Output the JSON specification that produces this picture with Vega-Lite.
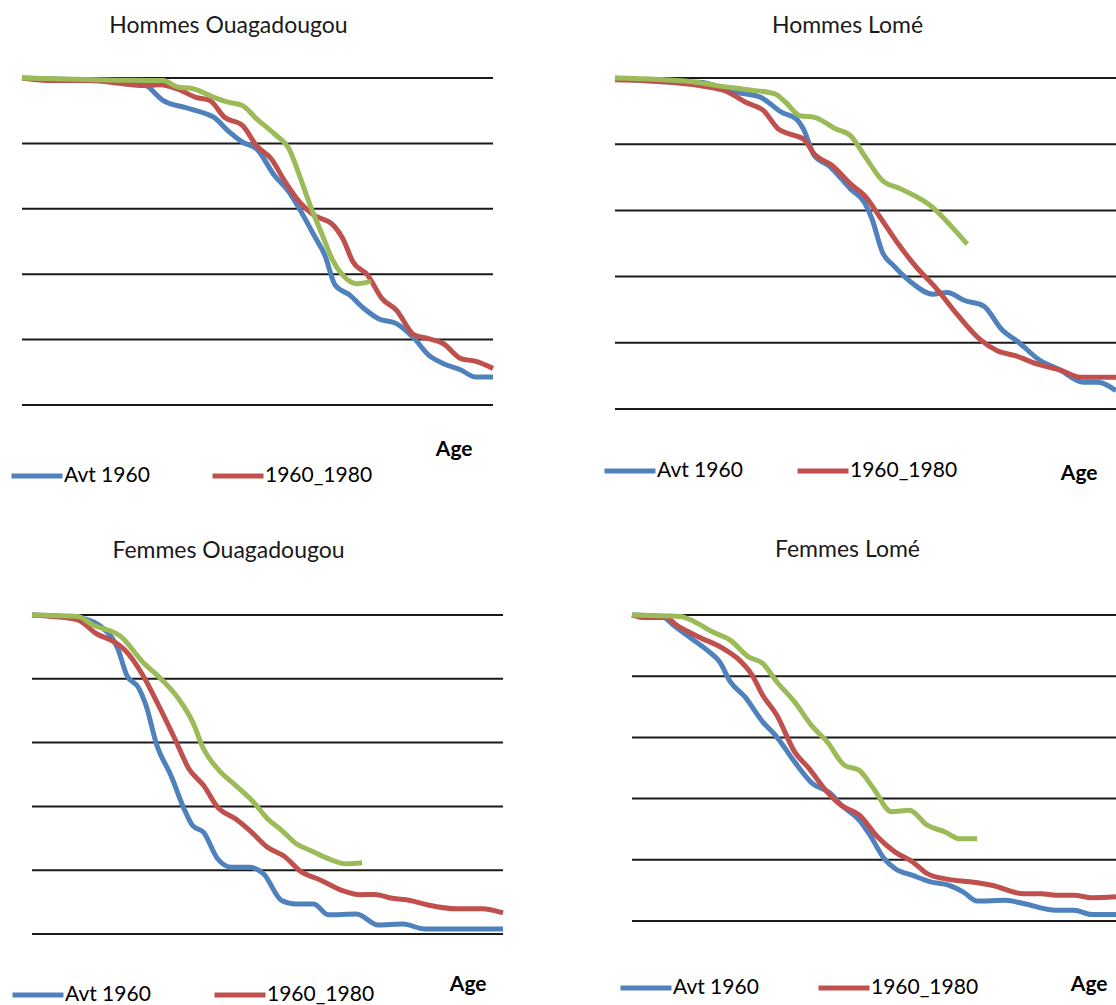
{
"$schema": "https://vega.github.io/schema/vega-lite/v6.json",
"padding": {"left": 9, "top": 15, "right": 0, "bottom": 0},
"background": "white",
"config": {"view": {"stroke": null}, "font": "Lato"},
"datasets": {
"grid": [{"g": 0}, {"g": 20}, {"g": 40}, {"g": 60}, {"g": 80}, {"g": 100}],
"HO": [
{"s": "Avt 1960", "age": 0, "v": 100}, {"s": "Avt 1960", "age": 12, "v": 99.5}, {"s": "Avt 1960", "age": 25.5, "v": 98.7}, {"s": "Avt 1960", "age": 26.9, "v": 97.2}, {"s": "Avt 1960", "age": 30, "v": 93.1}, {"s": "Avt 1960", "age": 34.6, "v": 91}, {"s": "Avt 1960", "age": 39.2, "v": 89}, {"s": "Avt 1960", "age": 40.7, "v": 88}, {"s": "Avt 1960", "age": 43.7, "v": 83.9}, {"s": "Avt 1960", "age": 46.8, "v": 80.4}, {"s": "Avt 1960", "age": 49.8, "v": 78.3}, {"s": "Avt 1960", "age": 53.6, "v": 70.2}, {"s": "Avt 1960", "age": 56.7, "v": 65.1}, {"s": "Avt 1960", "age": 58.9, "v": 60}, {"s": "Avt 1960", "age": 62, "v": 51.9}, {"s": "Avt 1960", "age": 64.3, "v": 45.8}, {"s": "Avt 1960", "age": 66.5, "v": 36.6}, {"s": "Avt 1960", "age": 69.6, "v": 33.6}, {"s": "Avt 1960", "age": 72.6, "v": 29.5}, {"s": "Avt 1960", "age": 75.7, "v": 26.4}, {"s": "Avt 1960", "age": 79.5, "v": 24.9}, {"s": "Avt 1960", "age": 83.3, "v": 20.3}, {"s": "Avt 1960", "age": 86.3, "v": 15.3}, {"s": "Avt 1960", "age": 89.4, "v": 12.7}, {"s": "Avt 1960", "age": 93.2, "v": 10.7}, {"s": "Avt 1960", "age": 96.2, "v": 8.6}, {"s": "Avt 1960", "age": 100, "v": 8.6},
{"s": "1960_1980", "age": 0, "v": 100}, {"s": "1960_1980", "age": 6.5, "v": 99.2}, {"s": "1960_1980", "age": 14.1, "v": 99.2}, {"s": "1960_1980", "age": 21.7, "v": 98.2}, {"s": "1960_1980", "age": 25.5, "v": 97.7}, {"s": "1960_1980", "age": 29.3, "v": 97.9}, {"s": "1960_1980", "age": 33.1, "v": 96.6}, {"s": "1960_1980", "age": 36.9, "v": 94.1}, {"s": "1960_1980", "age": 39.9, "v": 93.1}, {"s": "1960_1980", "age": 43, "v": 88}, {"s": "1960_1980", "age": 46.8, "v": 85.5}, {"s": "1960_1980", "age": 49.8, "v": 79.3}, {"s": "1960_1980", "age": 52.9, "v": 75.3}, {"s": "1960_1980", "age": 55.9, "v": 68.2}, {"s": "1960_1980", "age": 58.9, "v": 62.1}, {"s": "1960_1980", "age": 62, "v": 58}, {"s": "1960_1980", "age": 65.8, "v": 55.4}, {"s": "1960_1980", "age": 68.1, "v": 50.9}, {"s": "1960_1980", "age": 70.3, "v": 43.7}, {"s": "1960_1980", "age": 73.4, "v": 39.7}, {"s": "1960_1980", "age": 76.4, "v": 32.6}, {"s": "1960_1980", "age": 79.5, "v": 29}, {"s": "1960_1980", "age": 83.3, "v": 21.4}, {"s": "1960_1980", "age": 86.3, "v": 20.3}, {"s": "1960_1980", "age": 89.4, "v": 18.8}, {"s": "1960_1980", "age": 93.2, "v": 14.2}, {"s": "1960_1980", "age": 96.2, "v": 13.4}, {"s": "1960_1980", "age": 100, "v": 11.2},
{"s": "Après 1980", "age": 0, "v": 100}, {"s": "Après 1980", "age": 17.9, "v": 99.4}, {"s": "Après 1980", "age": 30, "v": 99.2}, {"s": "Après 1980", "age": 33.1, "v": 97.2}, {"s": "Après 1980", "age": 36.1, "v": 96.8}, {"s": "Après 1980", "age": 40.7, "v": 94.1}, {"s": "Après 1980", "age": 43.7, "v": 92.6}, {"s": "Après 1980", "age": 46.8, "v": 91.6}, {"s": "Après 1980", "age": 49.8, "v": 87.5}, {"s": "Après 1980", "age": 53.6, "v": 82.9}, {"s": "Après 1980", "age": 56.7, "v": 78.3}, {"s": "Après 1980", "age": 58.9, "v": 70.2}, {"s": "Après 1980", "age": 61.2, "v": 61}, {"s": "Après 1980", "age": 63.5, "v": 52.9}, {"s": "Après 1980", "age": 65.8, "v": 44.8}, {"s": "Après 1980", "age": 68.1, "v": 39.7}, {"s": "Après 1980", "age": 71.1, "v": 37.1}, {"s": "Après 1980", "age": 74.1, "v": 37.8}
],
"HL": [
{"s": "Avt 1960", "age": 0, "v": 100}, {"s": "Avt 1960", "age": 13.3, "v": 98.7}, {"s": "Avt 1960", "age": 16.8, "v": 98.7}, {"s": "Avt 1960", "age": 24, "v": 95.7}, {"s": "Avt 1960", "age": 29, "v": 94.2}, {"s": "Avt 1960", "age": 33.3, "v": 89.6}, {"s": "Avt 1960", "age": 36.2, "v": 87.6}, {"s": "Avt 1960", "age": 37.6, "v": 84.6}, {"s": "Avt 1960", "age": 39.8, "v": 76.5}, {"s": "Avt 1960", "age": 42.7, "v": 73.5}, {"s": "Avt 1960", "age": 47, "v": 66.5}, {"s": "Avt 1960", "age": 49.8, "v": 62.4}, {"s": "Avt 1960", "age": 51.3, "v": 57.4}, {"s": "Avt 1960", "age": 53.4, "v": 47.3}, {"s": "Avt 1960", "age": 55.6, "v": 43.3}, {"s": "Avt 1960", "age": 59.1, "v": 38.3}, {"s": "Avt 1960", "age": 63.4, "v": 34.7}, {"s": "Avt 1960", "age": 66.3, "v": 35.2}, {"s": "Avt 1960", "age": 69.9, "v": 32.7}, {"s": "Avt 1960", "age": 73.5, "v": 31.2}, {"s": "Avt 1960", "age": 77.1, "v": 24.2}, {"s": "Avt 1960", "age": 80.6, "v": 20.1}, {"s": "Avt 1960", "age": 84.9, "v": 14.6}, {"s": "Avt 1960", "age": 88.5, "v": 12.1}, {"s": "Avt 1960", "age": 93.5, "v": 8.1}, {"s": "Avt 1960", "age": 96.4, "v": 8.1}, {"s": "Avt 1960", "age": 100, "v": 5.5},
{"s": "1960_1980", "age": 0, "v": 99.5}, {"s": "1960_1980", "age": 9.7, "v": 98.9}, {"s": "1960_1980", "age": 16.8, "v": 97.7}, {"s": "1960_1980", "age": 22.6, "v": 95.7}, {"s": "1960_1980", "age": 26.2, "v": 92.6}, {"s": "1960_1980", "age": 29.7, "v": 90.1}, {"s": "1960_1980", "age": 32.6, "v": 84.6}, {"s": "1960_1980", "age": 34.8, "v": 83.1}, {"s": "1960_1980", "age": 37.6, "v": 81.6}, {"s": "1960_1980", "age": 39.8, "v": 77}, {"s": "1960_1980", "age": 43.4, "v": 73.5}, {"s": "1960_1980", "age": 47, "v": 68}, {"s": "1960_1980", "age": 49.8, "v": 64.5}, {"s": "1960_1980", "age": 52.7, "v": 58.4}, {"s": "1960_1980", "age": 56.3, "v": 50.4}, {"s": "1960_1980", "age": 59.9, "v": 43.3}, {"s": "1960_1980", "age": 64.2, "v": 36.3}, {"s": "1960_1980", "age": 68.5, "v": 28.2}, {"s": "1960_1980", "age": 72.8, "v": 21.1}, {"s": "1960_1980", "age": 76.3, "v": 17.6}, {"s": "1960_1980", "age": 79.9, "v": 16.1}, {"s": "1960_1980", "age": 84.2, "v": 13.6}, {"s": "1960_1980", "age": 89.2, "v": 11.6}, {"s": "1960_1980", "age": 92.8, "v": 9.6}, {"s": "1960_1980", "age": 100, "v": 9.6},
{"s": "Après 1980", "age": 0, "v": 100}, {"s": "Après 1980", "age": 15.4, "v": 98.9}, {"s": "Après 1980", "age": 20.4, "v": 97.7}, {"s": "Après 1980", "age": 26.2, "v": 96.5}, {"s": "Après 1980", "age": 31.9, "v": 95.2}, {"s": "Après 1980", "age": 34.1, "v": 92.6}, {"s": "Après 1980", "age": 36.9, "v": 88.6}, {"s": "Après 1980", "age": 39.8, "v": 88.1}, {"s": "Après 1980", "age": 44.1, "v": 84.6}, {"s": "Après 1980", "age": 47, "v": 82.6}, {"s": "Après 1980", "age": 49.8, "v": 76.5}, {"s": "Après 1980", "age": 53.4, "v": 69}, {"s": "Après 1980", "age": 57, "v": 66.5}, {"s": "Après 1980", "age": 63.4, "v": 60.9}, {"s": "Après 1980", "age": 67, "v": 55.4}, {"s": "Après 1980", "age": 70.3, "v": 49.8}
],
"FO": [
{"s": "Avt 1960", "age": 0, "v": 100}, {"s": "Avt 1960", "age": 9.8, "v": 99.2}, {"s": "Avt 1960", "age": 15.9, "v": 94.8}, {"s": "Avt 1960", "age": 18.2, "v": 89.5}, {"s": "Avt 1960", "age": 20.1, "v": 81.2}, {"s": "Avt 1960", "age": 22.7, "v": 77}, {"s": "Avt 1960", "age": 24.2, "v": 71.7}, {"s": "Avt 1960", "age": 26.5, "v": 59.2}, {"s": "Avt 1960", "age": 29.5, "v": 49.7}, {"s": "Avt 1960", "age": 32.6, "v": 38.2}, {"s": "Avt 1960", "age": 34.1, "v": 34}, {"s": "Avt 1960", "age": 36.4, "v": 31.9}, {"s": "Avt 1960", "age": 39.4, "v": 23.6}, {"s": "Avt 1960", "age": 42.4, "v": 20.9}, {"s": "Avt 1960", "age": 46.2, "v": 20.9}, {"s": "Avt 1960", "age": 49.2, "v": 18.8}, {"s": "Avt 1960", "age": 53, "v": 10.5}, {"s": "Avt 1960", "age": 56.1, "v": 9.4}, {"s": "Avt 1960", "age": 59.8, "v": 9.4}, {"s": "Avt 1960", "age": 62.9, "v": 6}, {"s": "Avt 1960", "age": 68.9, "v": 6.3}, {"s": "Avt 1960", "age": 73.5, "v": 2.8}, {"s": "Avt 1960", "age": 78.8, "v": 3.1}, {"s": "Avt 1960", "age": 83.3, "v": 1.6}, {"s": "Avt 1960", "age": 100, "v": 1.6},
{"s": "1960_1980", "age": 0, "v": 100}, {"s": "1960_1980", "age": 4.5, "v": 99.5}, {"s": "1960_1980", "age": 9.8, "v": 98.4}, {"s": "1960_1980", "age": 13.6, "v": 94.2}, {"s": "1960_1980", "age": 17.4, "v": 91.6}, {"s": "1960_1980", "age": 19.7, "v": 89}, {"s": "1960_1980", "age": 23.5, "v": 81.2}, {"s": "1960_1980", "age": 26.5, "v": 72.8}, {"s": "1960_1980", "age": 30.3, "v": 61.3}, {"s": "1960_1980", "age": 33.3, "v": 51.8}, {"s": "1960_1980", "age": 36.4, "v": 46.6}, {"s": "1960_1980", "age": 39.4, "v": 39.8}, {"s": "1960_1980", "age": 43.2, "v": 36.1}, {"s": "1960_1980", "age": 46.2, "v": 32.5}, {"s": "1960_1980", "age": 50, "v": 27.2}, {"s": "1960_1980", "age": 53.8, "v": 24.1}, {"s": "1960_1980", "age": 56.8, "v": 19.9}, {"s": "1960_1980", "age": 61.4, "v": 16.8}, {"s": "1960_1980", "age": 65.9, "v": 13.6}, {"s": "1960_1980", "age": 69.7, "v": 12.3}, {"s": "1960_1980", "age": 72.7, "v": 12.4}, {"s": "1960_1980", "age": 76.5, "v": 11.2}, {"s": "1960_1980", "age": 80.3, "v": 10.5}, {"s": "1960_1980", "age": 84.1, "v": 9.1}, {"s": "1960_1980", "age": 90.2, "v": 7.9}, {"s": "1960_1980", "age": 95.5, "v": 7.9}, {"s": "1960_1980", "age": 100, "v": 6.6},
{"s": "Après 1980", "age": 0, "v": 100}, {"s": "Après 1980", "age": 9.8, "v": 99.5}, {"s": "Après 1980", "age": 12.9, "v": 96.9}, {"s": "Après 1980", "age": 18.9, "v": 93.2}, {"s": "Après 1980", "age": 23.5, "v": 85.3}, {"s": "Après 1980", "age": 27.3, "v": 80.1}, {"s": "Après 1980", "age": 31.1, "v": 73.8}, {"s": "Après 1980", "age": 34.1, "v": 66.5}, {"s": "Après 1980", "age": 36.4, "v": 58.1}, {"s": "Après 1980", "age": 39.4, "v": 51.8}, {"s": "Après 1980", "age": 43.2, "v": 46.6}, {"s": "Après 1980", "age": 47, "v": 41.4}, {"s": "Après 1980", "age": 50, "v": 36.1}, {"s": "Après 1980", "age": 53, "v": 32.5}, {"s": "Après 1980", "age": 56.1, "v": 28.3}, {"s": "Après 1980", "age": 59.1, "v": 26.2}, {"s": "Après 1980", "age": 62.9, "v": 23.6}, {"s": "Après 1980", "age": 66.7, "v": 22}, {"s": "Après 1980", "age": 70.1, "v": 22.3}
],
"FL": [
{"s": "Avt 1960", "age": 0, "v": 100}, {"s": "Avt 1960", "age": 6.3, "v": 99.5}, {"s": "Avt 1960", "age": 8.5, "v": 96.7}, {"s": "Avt 1960", "age": 12.2, "v": 92.4}, {"s": "Avt 1960", "age": 15.9, "v": 88}, {"s": "Avt 1960", "age": 18.1, "v": 84.7}, {"s": "Avt 1960", "age": 20.3, "v": 78.2}, {"s": "Avt 1960", "age": 23.3, "v": 73.3}, {"s": "Avt 1960", "age": 27, "v": 65.1}, {"s": "Avt 1960", "age": 29.9, "v": 60.2}, {"s": "Avt 1960", "age": 33.6, "v": 52}, {"s": "Avt 1960", "age": 37.3, "v": 44.9}, {"s": "Avt 1960", "age": 41, "v": 41.7}, {"s": "Avt 1960", "age": 43.3, "v": 37.8}, {"s": "Avt 1960", "age": 47, "v": 32.9}, {"s": "Avt 1960", "age": 49.2, "v": 28}, {"s": "Avt 1960", "age": 52.1, "v": 20.4}, {"s": "Avt 1960", "age": 54.4, "v": 17.1}, {"s": "Avt 1960", "age": 58, "v": 14.9}, {"s": "Avt 1960", "age": 61.7, "v": 12.8}, {"s": "Avt 1960", "age": 65.4, "v": 11.7}, {"s": "Avt 1960", "age": 68.4, "v": 9.5}, {"s": "Avt 1960", "age": 71.3, "v": 6.5}, {"s": "Avt 1960", "age": 77.2, "v": 6.8}, {"s": "Avt 1960", "age": 80.9, "v": 5.7}, {"s": "Avt 1960", "age": 87.6, "v": 3.5}, {"s": "Avt 1960", "age": 91.3, "v": 3.5}, {"s": "Avt 1960", "age": 95, "v": 2.1}, {"s": "Avt 1960", "age": 100, "v": 2.1},
{"s": "1960_1980", "age": 0, "v": 100}, {"s": "1960_1980", "age": 2.6, "v": 99.2}, {"s": "1960_1980", "age": 7, "v": 99.2}, {"s": "1960_1980", "age": 9.2, "v": 96.7}, {"s": "1960_1980", "age": 13.7, "v": 92.9}, {"s": "1960_1980", "age": 18.8, "v": 89.1}, {"s": "1960_1980", "age": 21.8, "v": 85.8}, {"s": "1960_1980", "age": 24.8, "v": 80.4}, {"s": "1960_1980", "age": 27, "v": 73.8}, {"s": "1960_1980", "age": 29.9, "v": 67.3}, {"s": "1960_1980", "age": 33.6, "v": 55.3}, {"s": "1960_1980", "age": 36.6, "v": 49.8}, {"s": "1960_1980", "age": 40.3, "v": 42.2}, {"s": "1960_1980", "age": 43.2, "v": 37.8}, {"s": "1960_1980", "age": 47, "v": 34.6}, {"s": "1960_1980", "age": 50.7, "v": 27.5}, {"s": "1960_1980", "age": 54.3, "v": 22.6}, {"s": "1960_1980", "age": 58, "v": 19.3}, {"s": "1960_1980", "age": 61, "v": 15.5}, {"s": "1960_1980", "age": 65.4, "v": 13.6}, {"s": "1960_1980", "age": 69.8, "v": 12.8}, {"s": "1960_1980", "age": 74.3, "v": 11.7}, {"s": "1960_1980", "age": 80.9, "v": 8.9}, {"s": "1960_1980", "age": 84.6, "v": 8.9}, {"s": "1960_1980", "age": 87.6, "v": 8.4}, {"s": "1960_1980", "age": 91.3, "v": 8.4}, {"s": "1960_1980", "age": 95, "v": 7.6}, {"s": "1960_1980", "age": 100, "v": 7.9},
{"s": "Après 1980", "age": 0, "v": 100}, {"s": "Après 1980", "age": 10, "v": 99.5}, {"s": "Après 1980", "age": 12.9, "v": 97.8}, {"s": "Après 1980", "age": 16.6, "v": 94.5}, {"s": "Après 1980", "age": 20.3, "v": 91.8}, {"s": "Après 1980", "age": 24, "v": 86.4}, {"s": "Après 1980", "age": 27, "v": 84.2}, {"s": "Après 1980", "age": 29.9, "v": 78.2}, {"s": "Après 1980", "age": 33.6, "v": 71.6}, {"s": "Après 1980", "age": 37.3, "v": 63.5}, {"s": "Après 1980", "age": 40.3, "v": 58.6}, {"s": "Après 1980", "age": 43.9, "v": 50.9}, {"s": "Après 1980", "age": 46.9, "v": 49.3}, {"s": "Après 1980", "age": 49.9, "v": 43.3}, {"s": "Après 1980", "age": 53.6, "v": 35.7}, {"s": "Après 1980", "age": 57.3, "v": 36.2}, {"s": "Après 1980", "age": 61, "v": 31.3}, {"s": "Après 1980", "age": 64.7, "v": 29.1}, {"s": "Après 1980", "age": 67.6, "v": 26.9}, {"s": "Après 1980", "age": 71.3, "v": 26.9}
]
},
"columns": 2,
"bounds": "flush",
"spacing": {"row": 206, "column": 112},
"resolve": {"scale": {"x": "independent", "y": "independent", "color": "independent"}, "legend": {"color": "independent"}},
"concat": [
{
"width": 471, "height": 327,
"title": {"text": "Hommes Ouagadougou", "font": "Lato", "fontSize": 23, "fontWeight": "normal", "color": "#1a1a1a", "anchor": "middle", "dx": -29, "offset": 12, "baseline": "alphabetic"},
"layer": [
{"data": {"name": "grid"}, "mark": {"type": "rule", "color": "#1a1a1a", "strokeWidth": 2},
 "encoding": {
  "y": {"field": "g", "type": "quantitative", "scale": {"domain": [0, 100]}, "axis": null},
  "x": {"datum": 0, "type": "quantitative", "scale": {"domain": [0, 100]}, "axis": {"domain": false, "ticks": false, "labels": false, "grid": false, "title": "Age", "titleFont": "Lato", "titleFontSize": 21, "titleFontWeight": "bold", "titleColor": "black", "titleX": 450, "titleY": 50, "titleAlign": "right", "titleBaseline": "alphabetic"}},
  "x2": {"datum": 100}}},
{"data": {"name": "HO"}, "mark": {"type": "line", "interpolate": "monotone", "strokeWidth": 5},
 "encoding": {
  "x": {"field": "age", "type": "quantitative", "scale": {"domain": [0, 100]}, "axis": {"domain": false, "ticks": false, "labels": false, "grid": false, "title": "Age", "titleFont": "Lato", "titleFontSize": 21, "titleFontWeight": "bold", "titleColor": "black", "titleX": 450, "titleY": 50, "titleAlign": "right", "titleBaseline": "alphabetic"}},
  "y": {"field": "v", "type": "quantitative", "scale": {"domain": [0, 100]}, "axis": null},
  "color": {"field": "s", "type": "nominal", "scale": {"domain": ["Avt 1960", "1960_1980", "Après 1980"], "range": ["#4F81BD", "#C0504D", "#9BBB59"]},
   "legend": {"title": null, "orient": "none", "legendX": -13, "legendY": 370, "direction": "horizontal", "values": ["Avt 1960", "1960_1980"], "symbolType": "stroke", "symbolSize": 2601, "symbolStrokeWidth": 5, "labelFont": "Lato", "labelFontSize": 21, "labelColor": "black", "labelOffset": -1, "columnPadding": 52, "labelLimit": 0}}}}
]
},
{
"width": 501, "height": 331,
"title": {"text": "Hommes Lomé", "font": "Lato", "fontSize": 23, "fontWeight": "normal", "color": "#1a1a1a", "anchor": "middle", "dx": -18, "offset": 12, "baseline": "alphabetic"},
"layer": [
{"data": {"name": "grid"}, "mark": {"type": "rule", "color": "#1a1a1a", "strokeWidth": 2},
 "encoding": {
  "y": {"field": "g", "type": "quantitative", "scale": {"domain": [0, 100]}, "axis": null},
  "x": {"datum": 0, "type": "quantitative", "scale": {"domain": [0, 100]}, "axis": {"domain": false, "ticks": false, "labels": false, "grid": false, "title": "Age", "titleFont": "Lato", "titleFontSize": 21, "titleFontWeight": "bold", "titleColor": "black", "titleX": 482, "titleY": 70, "titleAlign": "right", "titleBaseline": "alphabetic"}},
  "x2": {"datum": 100}}},
{"data": {"name": "HL"}, "mark": {"type": "line", "interpolate": "monotone", "strokeWidth": 5},
 "encoding": {
  "x": {"field": "age", "type": "quantitative", "scale": {"domain": [0, 100]}, "axis": {"domain": false, "ticks": false, "labels": false, "grid": false, "title": "Age", "titleFont": "Lato", "titleFontSize": 21, "titleFontWeight": "bold", "titleColor": "black", "titleX": 482, "titleY": 70, "titleAlign": "right", "titleBaseline": "alphabetic"}},
  "y": {"field": "v", "type": "quantitative", "scale": {"domain": [0, 100]}, "axis": null},
  "color": {"field": "s", "type": "nominal", "scale": {"domain": ["Avt 1960", "1960_1980", "Après 1980"], "range": ["#4F81BD", "#C0504D", "#9BBB59"]},
   "legend": {"title": null, "orient": "none", "legendX": -13, "legendY": 365, "direction": "horizontal", "values": ["Avt 1960", "1960_1980"], "symbolType": "stroke", "symbolSize": 2601, "symbolStrokeWidth": 5, "labelFont": "Lato", "labelFontSize": 21, "labelColor": "black", "labelOffset": -1, "columnPadding": 44, "labelLimit": 0}}}}
]
},
{
"width": 481, "height": 319,
"title": {"text": "Femmes Ouagadougou", "font": "Lato", "fontSize": 23, "fontWeight": "normal", "color": "#1a1a1a", "anchor": "middle", "dx": -34, "offset": 24, "baseline": "alphabetic"},
"layer": [
{"data": {"name": "grid"}, "mark": {"type": "rule", "color": "#1a1a1a", "strokeWidth": 2},
 "encoding": {
  "y": {"field": "g", "type": "quantitative", "scale": {"domain": [0, 100]}, "axis": null},
  "x": {"datum": 0, "type": "quantitative", "scale": {"domain": [-2.123, 100], "nice": false, "zero": false}, "axis": {"domain": false, "ticks": false, "labels": false, "grid": false, "title": "Age", "titleFont": "Lato", "titleFontSize": 21, "titleFontWeight": "bold", "titleColor": "black", "titleX": 464, "titleY": 56, "titleAlign": "right", "titleBaseline": "alphabetic"}},
  "x2": {"datum": 100}}},
{"data": {"name": "FO"}, "mark": {"type": "line", "interpolate": "monotone", "strokeWidth": 5},
 "encoding": {
  "x": {"field": "age", "type": "quantitative", "scale": {"domain": [-2.123, 100], "nice": false, "zero": false}, "axis": {"domain": false, "ticks": false, "labels": false, "grid": false, "title": "Age", "titleFont": "Lato", "titleFontSize": 21, "titleFontWeight": "bold", "titleColor": "black", "titleX": 464, "titleY": 56, "titleAlign": "right", "titleBaseline": "alphabetic"}},
  "y": {"field": "v", "type": "quantitative", "scale": {"domain": [0, 100]}, "axis": null},
  "color": {"field": "s", "type": "nominal", "scale": {"domain": ["Avt 1960", "1960_1980", "Après 1980"], "range": ["#4F81BD", "#C0504D", "#9BBB59"]},
   "legend": {"title": null, "orient": "none", "legendX": -12, "legendY": 352, "direction": "horizontal", "values": ["Avt 1960", "1960_1980"], "symbolType": "stroke", "symbolSize": 2601, "symbolStrokeWidth": 5, "labelFont": "Lato", "labelFontSize": 21, "labelColor": "black", "labelOffset": -1, "columnPadding": 53, "labelLimit": 0}}}}
]
},
{
"width": 501, "height": 306,
"title": {"text": "Femmes Lomé", "font": "Lato", "fontSize": 23, "fontWeight": "normal", "color": "#1a1a1a", "anchor": "middle", "dx": -18, "offset": 25, "baseline": "alphabetic"},
"layer": [
{"data": {"name": "grid"}, "mark": {"type": "rule", "color": "#1a1a1a", "strokeWidth": 2},
 "encoding": {
  "y": {"field": "g", "type": "quantitative", "scale": {"domain": [0, 100]}, "axis": null},
  "x": {"datum": 0, "type": "quantitative", "scale": {"domain": [-3.512, 100], "nice": false, "zero": false}, "axis": {"domain": false, "ticks": false, "labels": false, "grid": false, "title": "Age", "titleFont": "Lato", "titleFontSize": 21, "titleFontWeight": "bold", "titleColor": "black", "titleX": 492, "titleY": 69, "titleAlign": "right", "titleBaseline": "alphabetic"}},
  "x2": {"datum": 100}}},
{"data": {"name": "FL"}, "mark": {"type": "line", "interpolate": "monotone", "strokeWidth": 5},
 "encoding": {
  "x": {"field": "age", "type": "quantitative", "scale": {"domain": [-3.512, 100], "nice": false, "zero": false}, "axis": {"domain": false, "ticks": false, "labels": false, "grid": false, "title": "Age", "titleFont": "Lato", "titleFontSize": 21, "titleFontWeight": "bold", "titleColor": "black", "titleX": 492, "titleY": 69, "titleAlign": "right", "titleBaseline": "alphabetic"}},
  "y": {"field": "v", "type": "quantitative", "scale": {"domain": [0, 100]}, "axis": null},
  "color": {"field": "s", "type": "nominal", "scale": {"domain": ["Avt 1960", "1960_1980", "Après 1980"], "range": ["#4F81BD", "#C0504D", "#9BBB59"]},
   "legend": {"title": null, "orient": "none", "legendX": 3, "legendY": 345, "direction": "horizontal", "values": ["Avt 1960", "1960_1980"], "symbolType": "stroke", "symbolSize": 2601, "symbolStrokeWidth": 5, "labelFont": "Lato", "labelFontSize": 21, "labelColor": "black", "labelOffset": -1, "columnPadding": 49, "labelLimit": 0}}}}
]
}
]
}
